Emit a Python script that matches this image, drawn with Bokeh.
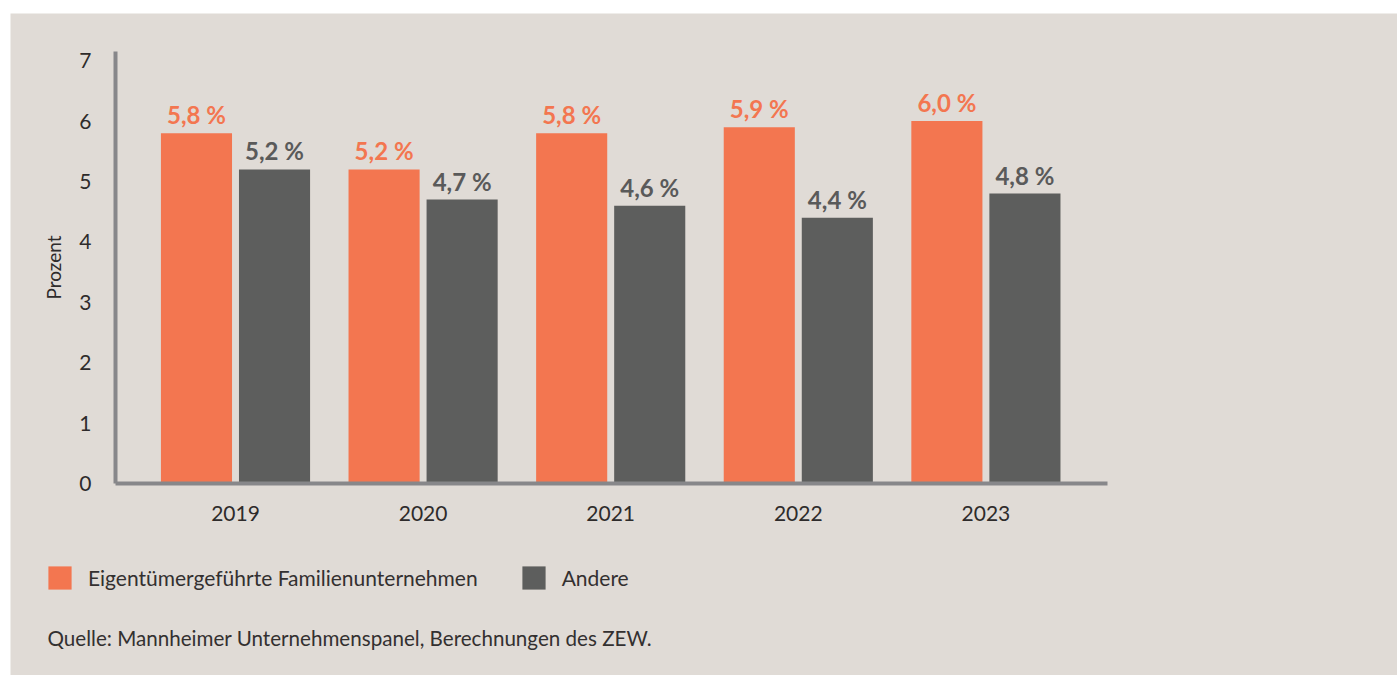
from bokeh.plotting import figure
from bokeh.models import (ColumnDataSource, Range1d, Legend, LegendItem, Label,
                          FixedTicker, LinearAxis)
from bokeh.transform import dodge
from bokeh.core.properties import value
from bokeh.embed import file_html
from bokeh.resources import INLINE

# ---- data ----
years = ["2019", "2020", "2021", "2022", "2023"]
familien = [5.8, 5.2, 5.8, 5.9, 6.0]
andere = [5.2, 4.7, 4.6, 4.4, 4.8]
series_names = ["Eigentümergeführte Familienunternehmen", "Andere"]
y_ticks = [0, 1, 2, 3, 4, 5, 6, 7]
y_label = "Prozent"
source_note = "Quelle: Mannheimer Unternehmenspanel, Berechnungen des ZEW."


def fmt(v):
    return f"{v:.1f}".replace(".", ",") + " %"


pos = list(range(len(years)))
src = ColumnDataSource(dict(
    pos=pos,
    fam=familien,
    oth=andere,
    fam_lbl=[fmt(v) for v in familien],
    oth_lbl=[fmt(v) for v in andere],
))

BG = "#e0dbd6"
ORANGE = "#f37650"
GREY = "#5d5e5d"
FONT = "Lato"

W, H = 1387, 662
X_UNIT, Y_UNIT = 187.6, 60.4        # px per category / per percent point
X0_PX, Y0_PX = 225, 470             # pixel position of first category / of y=0
AX_LEFT_PX, AX_RIGHT_PX = 105, 1097  # plot-area edges
x_start = -X0_PX / X_UNIT
x_end = (W - X0_PX) / X_UNIT
y_end = Y0_PX / Y_UNIT
y_start = -(H - Y0_PX) / Y_UNIT
x_axis_left = (AX_LEFT_PX - X0_PX) / X_UNIT
x_axis_right = (AX_RIGHT_PX - X0_PX) / X_UNIT

p = figure(
    x_range=Range1d(x_start, x_end),
    y_range=Range1d(y_start, y_end),
    width=W, height=H,
    output_backend="svg", toolbar_location=None,
    x_axis_type=None, y_axis_type=None, min_border=0,
)
p.margin = (13, 0, 0, 10)
p.background_fill_color = BG
p.border_fill_color = BG
p.outline_line_color = None

r_fam = p.vbar(x=dodge("pos", -0.208), top="fam", width=0.379,
               source=src, fill_color=ORANGE, line_color=None)
r_oth = p.vbar(x=dodge("pos", 0.208), top="oth", width=0.379,
               source=src, fill_color=GREY, line_color=None)

p.text(x=dodge("pos", -0.208), y="fam", text="fam_lbl", source=src,
       text_font=value(FONT), text_font_style="bold", text_font_size="24px",
       text_color=ORANGE, text_align="center", text_baseline="bottom", y_offset=-4)
p.text(x=dodge("pos", 0.208), y="oth", text="oth_lbl", source=src,
       text_font=value(FONT), text_font_style="bold", text_font_size="24px",
       text_color="#5a5a5a", text_align="center", text_baseline="bottom", y_offset=-4)

# axes (fixed inside the frame)
yaxis = LinearAxis(fixed_location=x_axis_left, bounds=(0, 7.15),
                   ticker=FixedTicker(ticks=y_ticks))
xaxis = LinearAxis(fixed_location=0, bounds=(x_axis_left, x_axis_right),
                   ticker=FixedTicker(ticks=pos),
                   major_label_overrides={i: y for i, y in zip(pos, years)})
for ax in (xaxis, yaxis):
    ax.axis_line_color = "#87878a"
    ax.axis_line_width = 4
    ax.major_tick_line_color = None
    ax.minor_tick_line_color = None
    ax.major_label_text_font = FONT
    ax.major_label_text_font_size = "21px"
    ax.major_label_text_color = "#2e2b2b"
yaxis.major_label_standoff = 18
xaxis.major_label_standoff = 16
yaxis.axis_label = y_label
yaxis.axis_label_text_font = FONT
yaxis.axis_label_text_font_style = "normal"
yaxis.axis_label_text_font_size = "19px"
yaxis.axis_label_text_color = "#2e2b2b"
yaxis.axis_label_standoff = 11
p.add_layout(yaxis, "left")
p.add_layout(xaxis, "below")

# grid
p.xgrid.grid_line_color = None
p.ygrid.ticker = FixedTicker(ticks=y_ticks)
p.ygrid.grid_line_color = "#c9c8cb"
p.ygrid.grid_line_width = 3
try:
    p.ygrid.cross_bounds = (x_axis_left, x_axis_right)
except Exception:
    pass

# legend
legend = Legend(
    items=[LegendItem(label=series_names[0], renderers=[r_fam]),
           LegendItem(label=series_names[1], renderers=[r_oth])],
    orientation="horizontal",
    location=(35, 83),
    glyph_width=29, glyph_height=29, label_height=29,
    label_standoff=14, spacing=41, padding=0, margin=0,
    border_line_color=None, background_fill_alpha=0,
    label_text_font=FONT, label_text_font_size="21px", label_text_color="#333030",
)
p.add_layout(legend, "center")

note = Label(x=37, y=38, x_units="screen", y_units="screen", text=source_note,
             text_font=FONT, text_font_size="20.6px", text_color="#333030",
             text_baseline="middle")
p.add_layout(note)

open("out.html", "w").write(file_html(p, INLINE))
